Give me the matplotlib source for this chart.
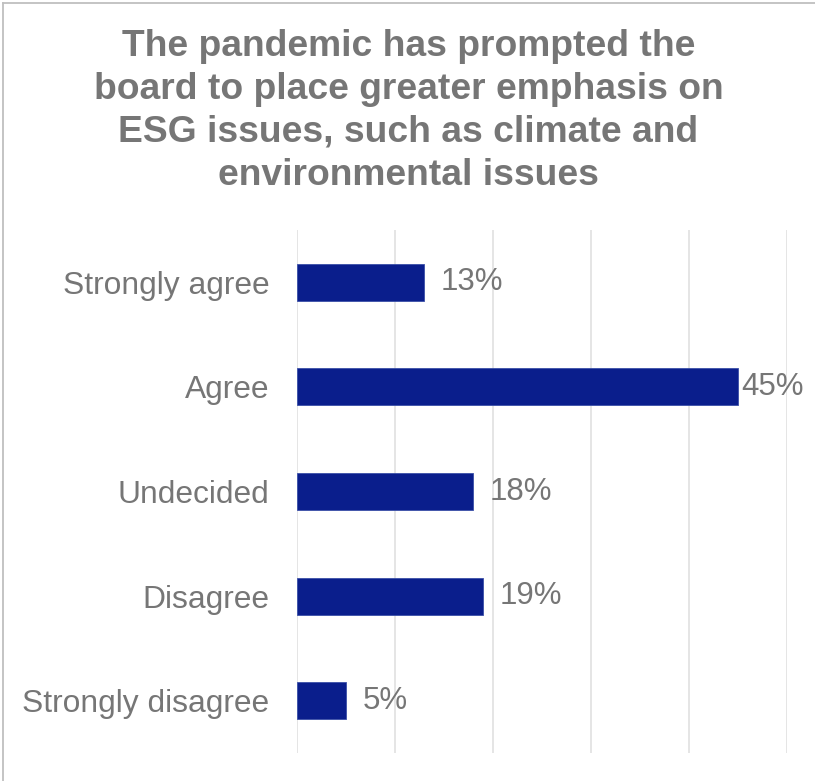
import matplotlib
matplotlib.use("Agg")
import matplotlib.pyplot as plt
from matplotlib.lines import Line2D

categories = ["Strongly agree", "Agree", "Undecided", "Disagree", "Strongly disagree"]
values = [13, 45, 18, 19, 5]
title = ("The pandemic has prompted the\nboard to place greater emphasis on\n"
         "ESG issues, such as climate and\nenvironmental issues")

W, H = 815, 781
plt.rcParams["font.family"] = ["Liberation Sans", "DejaVu Sans"]
fig = plt.figure(figsize=(W / 100, H / 100), dpi=100)
fig.patch.set_facecolor("white")

# chart frame (left and top edges)
frame_col = "#bfbfbf"
fig.add_artist(Line2D([3 / W, 3 / W], [0, 1 - 3 / H], transform=fig.transFigure,
                      color=frame_col, lw=1.3))
fig.add_artist(Line2D([3 / W, 1], [1 - 3 / H, 1 - 3 / H], transform=fig.transFigure,
                      color=frame_col, lw=1.3))

left, right, top, bottom = 297, 787, 230, 753
ax = fig.add_axes([left / W, 1 - bottom / H, (right - left) / W, (bottom - top) / H])

y = list(range(len(categories)))
ax.barh(y, values, height=0.355, color="#0a1e8c", edgecolor="#3a4fa8", linewidth=0.6,
        zorder=3)
ax.set_ylim(len(categories) - 0.5, -0.5)
ax.set_xlim(0, 50)
ax.set_xticks(range(0, 51, 10))
ax.set_xticklabels([])
ax.set_yticks(y)
ax.set_yticklabels(categories, fontsize=22.9, color="#767676")
ax.tick_params(length=0)
ax.tick_params(axis="y", pad=20)
ax.grid(axis="x", color="#e0e0e0", lw=1.2, zorder=0)
for s in ax.spines.values():
    s.set_visible(False)

for yi, v in zip(y, values):
    x = min(v + 1.7, 45.3)
    ax.text(x, yi, f"{v}%", ha="left", va="center", fontsize=22.5, color="#767676",
            clip_on=False)

fig.text(0.5 + 1 / W, 1 - 29 / H, title, ha="center", va="top", fontsize=26.8,
         fontweight="bold", color="#767676", linespacing=1.295)

fig.savefig("out.png", dpi=100, facecolor="white")
